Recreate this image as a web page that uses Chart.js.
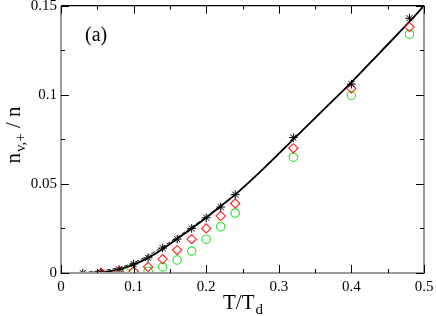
<!DOCTYPE html>
<html>
<head>
<meta charset="utf-8">
<script src="https://cdn.jsdelivr.net/npm/chart.js@4"></script>
<style>
html,body{margin:0;padding:0;background:#fff;}
#c{display:block;}
</style>
</head>
<body>
<canvas id="c" width="436" height="316"></canvas>
<script>
// ---- data ----
const starX = [0.03,0.055,0.08,0.1,0.12,0.14,0.16,0.18,0.2,0.22,0.24,0.32,0.4,0.48];
const starY = [0,0,0.002,0.005,0.0085,0.014,0.019,0.025,0.031,0.037,0.044,0.076,0.106,0.143];

const diamondX = [0.055,0.08,0.1,0.12,0.14,0.16,0.18,0.2,0.22,0.24,0.32,0.4,0.48];
const diamondY = [0,0.0008,0.001,0.0034,0.0078,0.0129,0.019,0.025,0.032,0.039,0.070,0.1035,0.138];

const circleX = [0.08,0.089,0.1,0.12,0.14,0.16,0.18,0.2,0.22,0.24,0.32,0.4,0.48];
const circleY = [0,0,0,0.001,0.0034,0.0073,0.0123,0.019,0.026,0.0336,0.065,0.0996,0.134];

const solidX = [0.03,0.05,0.07,0.08,0.1,0.12,0.14,0.16,0.18,0.2,0.22,0.24,0.28,0.32,0.36,0.4,0.44,0.48,0.5];
const solidY = [0,0.0003,0.0012,0.002,0.0047,0.0085,0.0135,0.0192,0.025,0.031,0.0375,0.044,0.059,0.075,0.091,0.107,0.124,0.141,0.15];

const dashX = [0.03,0.055,0.08,0.1,0.12,0.14,0.16,0.18,0.2,0.22,0.24];
const dashY = [0.0002,0.0013,0.003,0.0058,0.0098,0.0148,0.0200,0.0258,0.0315,0.0378,0.0442];

const xTickLabels = ["0","0.1","0.2","0.3","0.4","0.5"];
const yTickLabels = ["0","0.05","0.1","0.15"];
const xMajor = [0,0.1,0.2,0.3,0.4,0.5];
const xMinor = [0.05,0.15,0.25,0.35,0.45];
const yMajor = [0,0.05,0.1,0.15];
const yMinor = [0.025,0.075,0.125];

const SERIF = '"Liberation Serif","Times New Roman",serif';

function pts(xs, ys){ return xs.map((x,i)=>({x:x,y:ys[i]})); }

const framePlugin = {
  id:'frame',
  afterDraw(chart){
    const ctx = chart.ctx;
    const a = chart.chartArea;
    const xs = chart.scales.x, ys = chart.scales.y;
    ctx.save();
    // axis frame
    ctx.lineWidth = 2;
    ctx.strokeStyle = '#9a9a9a';
    ctx.beginPath();
    ctx.moveTo(a.left, a.top); ctx.lineTo(a.left, a.bottom); ctx.lineTo(a.right, a.bottom); ctx.lineTo(a.right, a.top);
    ctx.stroke();
    ctx.lineWidth = 1.2;
    ctx.strokeStyle = '#000';
    ctx.beginPath();
    ctx.moveTo(a.left, a.top); ctx.lineTo(a.right, a.top);
    ctx.stroke();
    // ticks
    ctx.lineWidth = 1;
    ctx.strokeStyle = '#000';
    ctx.beginPath();
    const tk = (v, len)=>{
      const p = Math.round(xs.getPixelForValue(v)) + 0.5;
      ctx.moveTo(p, a.bottom); ctx.lineTo(p, a.bottom - len);
      ctx.moveTo(p, a.top); ctx.lineTo(p, a.top + len);
    };
    const tky = (v, len)=>{
      const p = Math.round(ys.getPixelForValue(v)) + 0.5;
      ctx.moveTo(a.left, p); ctx.lineTo(a.left + len, p);
      ctx.moveTo(a.right, p); ctx.lineTo(a.right - len, p);
    };
    xMajor.forEach(v=>tk(v,8)); xMinor.forEach(v=>tk(v,4));
    yMajor.forEach(v=>tky(v,8)); yMinor.forEach(v=>tky(v,4));
    ctx.stroke();

    ctx.fillStyle = '#000';
    // (a)
    ctx.font = '20px ' + SERIF;
    ctx.textBaseline = 'alphabetic';
    ctx.textAlign = 'left';
    ctx.fillText('(a)', 85, 41);

    // x title T/T_d
    const main = 'T/T';
    ctx.font = '21px ' + SERIF;
    const w1 = ctx.measureText(main).width;
    ctx.font = '15px ' + SERIF;
    const w2 = ctx.measureText('d').width;
    const cx = (a.left + a.right)/2;
    const sx = cx - (w1 + w2)/2;
    ctx.font = '21px ' + SERIF;
    ctx.fillText(main, sx, 309);
    ctx.font = '15px ' + SERIF;
    ctx.fillText('d', sx + w1 + 1, 314);

    // y title n_{v,+} / n (rotated)
    ctx.translate(20, 135);
    ctx.rotate(-Math.PI/2);
    ctx.font = '21px ' + SERIF;
    const a1 = ctx.measureText('n').width;
    const a3 = ctx.measureText(' / n').width;
    ctx.font = '15px ' + SERIF;
    const a2 = ctx.measureText('v,+').width;
    const tot = a1 + a2 + a3 + 1;
    let px = -tot/2;
    ctx.font = '21px ' + SERIF;
    ctx.fillText('n', px, 0); px += a1 + 1;
    ctx.font = '15px ' + SERIF;
    ctx.fillText('v,+', px, 5); px += a2;
    ctx.font = '21px ' + SERIF;
    ctx.fillText(' / n', px, 0);
    ctx.restore();
  }
};

new Chart(document.getElementById('c'), {
  type:'scatter',
  data:{
    datasets:[
      {label:'solid', data:pts(solidX, solidY), showLine:true, borderColor:'#000', borderWidth:1.8, pointRadius:0, cubicInterpolationMode:'monotone', order:3},
      {label:'dashed', data:pts(dashX, dashY), showLine:true, borderColor:'#000', borderWidth:0.9, borderDash:[4,2], pointRadius:0, cubicInterpolationMode:'monotone', order:4},
      {label:'circles', data:pts(circleX, circleY), pointStyle:'circle', pointRadius:4.2, borderColor:'#22e022', backgroundColor:'rgba(0,0,0,0)', borderWidth:1.1, order:2},
      {label:'diamonds', data:pts(diamondX, diamondY), pointStyle:'rectRot', pointRadius:4.6, borderColor:'#ff2020', backgroundColor:'rgba(0,0,0,0)', borderWidth:1.1, order:1},
      {label:'stars', data:pts(starX, starY), pointStyle:'star', pointRadius:4.3, borderColor:'#000', backgroundColor:'#000', borderWidth:1, order:0}
    ]
  },
  options:{
    responsive:false,
    animation:false,
    events:[],
    layout:{padding:{left:0, right:12, top:5, bottom:0}},
    plugins:{legend:{display:false}, tooltip:{enabled:false}},
    scales:{
      x:{
        type:'linear', min:0, max:0.5,
        grid:{display:false, drawTicks:false},
        border:{display:false},
        ticks:{stepSize:0.1, padding:5, color:'#000', font:{family:SERIF, size:15}, maxRotation:0,
          callback:(v)=>{ const i = xMajor.findIndex(m=>Math.abs(m-v)<1e-9); return i>=0 ? xTickLabels[i] : ''; }},
        afterFit:(s)=>{ s.height = 43; s.paddingLeft = 0; s.paddingRight = 0; }
      },
      y:{
        type:'linear', min:0, max:0.15,
        grid:{display:false, drawTicks:false},
        border:{display:false},
        ticks:{stepSize:0.05, padding:4, color:'#000', font:{family:SERIF, size:15},
          callback:(v)=>{ const i = yMajor.findIndex(m=>Math.abs(m-v)<1e-9); return i>=0 ? yTickLabels[i] : ''; }},
        afterFit:(s)=>{ s.width = 61; s.paddingTop = 0; s.paddingBottom = 0; }
      }
    }
  },
  plugins:[framePlugin]
});
</script>
</body>
</html>
